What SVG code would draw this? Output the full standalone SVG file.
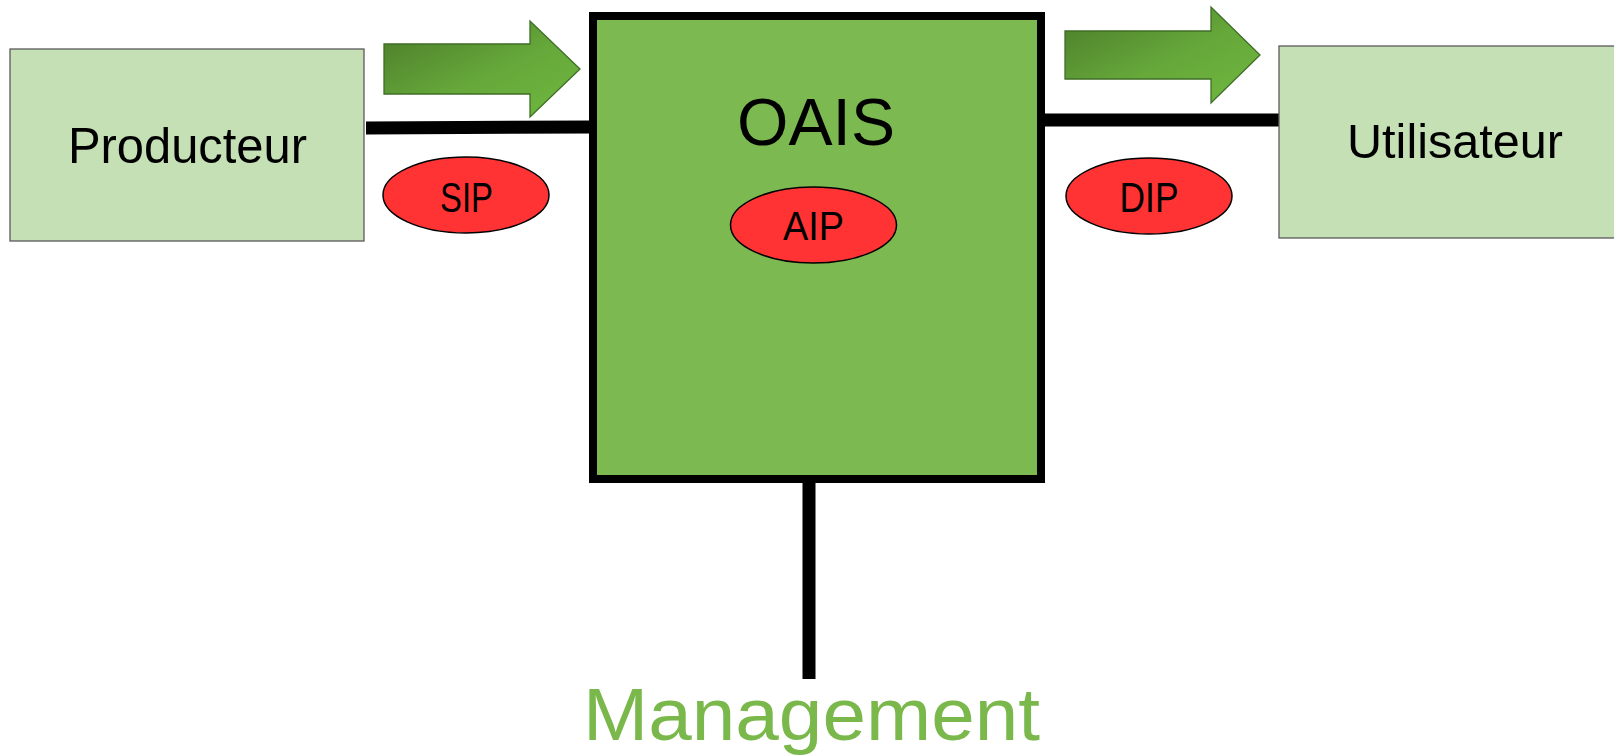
<svg xmlns="http://www.w3.org/2000/svg" width="1614" height="756" viewBox="0 0 1614 756">
<style>
.ext{fill:#c5e0b4;stroke:#5a5a5a;stroke-width:1.3}
.pkg{fill:#ff3333;stroke:#000;stroke-width:1.5}
.t{font-family:"Liberation Sans",Arial,sans-serif;fill:#000;text-anchor:middle}
.conn{stroke:#000;stroke-width:13;fill:none}
.arr{fill:url(#g);stroke:#3f6e26;stroke-width:1.3}
</style>
<defs>
<linearGradient id="g" x1="0" y1="0" x2="1" y2="1">
<stop offset="0" stop-color="#4a7a2a"/>
<stop offset="0.55" stop-color="#66a83a"/>
<stop offset="1" stop-color="#6fb840"/>
</linearGradient>
</defs>
<rect width="1614" height="756" fill="#fff"/>
<g id="connectors">
<line class="conn" x1="366" y1="128" x2="592" y2="127"/>
<line class="conn" x1="1043" y1="120" x2="1280" y2="120"/>
<line class="conn" x1="809" y1="480" x2="809" y2="679"/>
<path class="arr" d="M384,44 H530 V21 L580,69 L530,117 V94 H384 Z"/>
<path class="arr" d="M1065,31 H1211 V7 L1260,55 L1211,103 V79 H1065 Z"/>
</g>
<g id="producteur">
<rect class="ext" x="10" y="49" width="354" height="192"/>
<text class="t" x="187.5" y="163" font-size="50" textLength="239" lengthAdjust="spacingAndGlyphs">Producteur</text>
</g>
<g id="utilisateur">
<rect class="ext" x="1279" y="46" width="345" height="192"/>
<text class="t" x="1455" y="158" font-size="49" textLength="216" lengthAdjust="spacingAndGlyphs">Utilisateur</text>
</g>
<g id="oais">
<rect x="593" y="16" width="448" height="463" fill="#7cb951" stroke="#000" stroke-width="8"/>
<text class="t" x="816" y="145" font-size="66" textLength="158" lengthAdjust="spacingAndGlyphs">OAIS</text>
</g>
<g id="sip">
<ellipse class="pkg" cx="466" cy="195" rx="83" ry="38"/>
<text class="t" x="466.5" y="212" font-size="42" textLength="53" lengthAdjust="spacingAndGlyphs">SIP</text>
</g>
<g id="aip">
<ellipse class="pkg" cx="813.5" cy="225" rx="83" ry="38"/>
<text class="t" x="813.5" y="240" font-size="41" textLength="61" lengthAdjust="spacingAndGlyphs">AIP</text>
</g>
<g id="dip">
<ellipse class="pkg" cx="1149" cy="196" rx="83" ry="38"/>
<text class="t" x="1149" y="212" font-size="42" textLength="59" lengthAdjust="spacingAndGlyphs">DIP</text>
</g>
<g id="management">
<text x="811.5" y="740" font-family="Liberation Sans, Arial, sans-serif" font-size="74" fill="#7ab84c" text-anchor="middle" textLength="457" lengthAdjust="spacingAndGlyphs">Management</text>
</g>
</svg>
